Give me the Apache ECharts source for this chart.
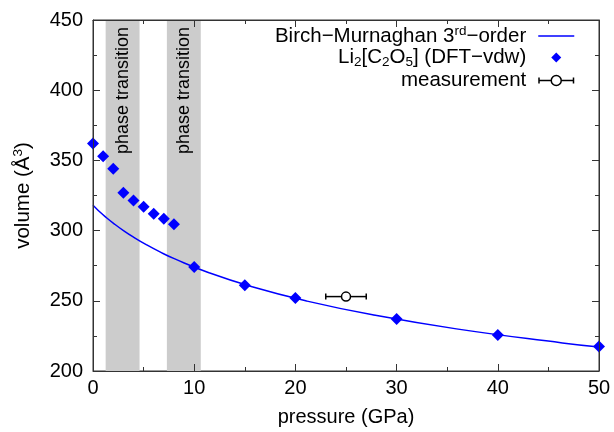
<!DOCTYPE html>
<html>
<head>
<meta charset="utf-8">
<script src="https://cdn.jsdelivr.net/npm/echarts@6/dist/echarts.min.js"></script>
<style>
  html, body { margin: 0; padding: 0; background: #fff; }
  #chart { width: 614px; height: 432px; }
</style>
</head>
<body>
<div id="chart"></div>
<script>
// DFT points (pressure in GPa, volume in Å^3)
const dftPressure = [0, 1, 2, 3, 4, 5, 6, 7, 8, 10, 15, 20, 30, 40, 50];
const dftVolume = [362, 353, 344, 327, 321.5, 317, 312, 308.5, 304.5, 274, 261, 252, 237, 225.6, 217.4];

// points
const bmPressure = [0, 0.57, 1.2, 2.06, 3.01, 4.08, 5.26, 6.57, 8.03, 11.46, 15.72, 21.02, 27.63, 35.91, 46.38, 50];
const bmVolume = [318, 314, 310, 305, 300, 295, 290, 285, 280, 270, 260, 250, 240, 230, 220, 217.1];

// experiment with pressure error
const measPressure = [25];
const measVolume = [253];
const measErr = [2];

// shaded phase transition ranges (GPa)
const phaseBands = [[1.25, 4.6], [7.3, 10.65]];

const FONT = '"Liberation Sans", Arial, Helvetica, sans-serif';
const BLUE = '#0000ff';
const FRAME = '#333333';

const rich = {
  n: { fontSize: 20.5, lineHeight: 24, fontFamily: FONT, color: '#000' },
  sup: { fontSize: 13.5, lineHeight: 24, verticalAlign: 'top', fontFamily: FONT, color: '#000' },
  sub: { fontSize: 13.5, lineHeight: 24, verticalAlign: 'bottom', fontFamily: FONT, color: '#000' }
};

const legendText = {
  'bm': '{n|Birch\u2212Murnaghan 3}{sup|rd}{n|\u2212order}',
  'dft': '{n|Li}{sub|2}{n|[C}{sub|2}{n|O}{sub|5}{n|] (DFT\u2212vdw)}',
  'meas': '{n|measurement}'
};

// fresh style objects for every axis
function axisParts(showLabels) {
  return {
    z: 10,
    axisLine: { show: true, onZero: false, lineStyle: { color: FRAME, width: 1 } },
    axisTick: { show: true, inside: true, length: 7, lineStyle: { color: FRAME, width: 1 } },
    minorTick: { show: true, splitNumber: 2, length: 4, lineStyle: { color: FRAME, width: 1 } },
    splitLine: { show: false },
    axisLabel: showLabels
      ? { show: true, fontSize: 20, fontFamily: FONT, color: '#000' }
      : { show: false }
  };
}

const chart = echarts.init(document.getElementById('chart'), null, { renderer: 'canvas' });

const xBottom = axisParts(true);
xBottom.axisLabel.margin = 7;
const yLeft = axisParts(true);
yLeft.axisLabel.margin = 10;

chart.setOption({
  animation: false,
  backgroundColor: '#fff',
  grid: { left: 93, right: 15, top: 20, bottom: 54, show: true, borderColor: FRAME, borderWidth: 1 },
  xAxis: [
    Object.assign({
      type: 'value', min: 0, max: 50, interval: 10, position: 'bottom',
      name: 'pressure (GPa)', nameLocation: 'middle', nameGap: 36,
      nameTextStyle: { fontSize: 20, fontFamily: FONT, color: '#000' }
    }, xBottom),
    Object.assign({ type: 'value', min: 0, max: 50, interval: 10, position: 'top' }, axisParts(false))
  ],
  yAxis: [
    Object.assign({
      type: 'value', min: 200, max: 450, interval: 50, position: 'left',
      name: '{n|volume (\u00c5}{sup|3}{n|)}', nameLocation: 'middle', nameGap: 58,
      nameTextStyle: { rich }
    }, yLeft),
    Object.assign({ type: 'value', min: 200, max: 450, interval: 50, position: 'right' }, axisParts(false))
  ],
  legend: {
    orient: 'vertical', right: 39, top: 24, align: 'right', padding: 0,
    itemWidth: 36, itemHeight: 10, itemGap: 0.5,
    textStyle: { rich, padding: [0, 7, 0, 0] },
    formatter: (name) => legendText[name],
    data: [
      {
        name: 'bm',
        icon: 'path://M0,0L0,0M0,10L0,10M0,5L36,5',
        itemStyle: { color: BLUE, borderColor: BLUE, borderWidth: 1.5 }
      },
      {
        name: 'dft',
        icon: 'path://M0,0L0,0M36,10L36,10M18,-0.5L23.5,5L18,10.5L12.5,5Z',
        itemStyle: { color: BLUE, borderWidth: 0 }
      },
      {
        name: 'meas',
        icon: 'path://M0,5L13,5M23,5L36,5M0.75,2L0.75,8M35.25,2L35.25,8M23,5A5,5 0 1,1 13,5A5,5 0 1,1 23,5Z',
        itemStyle: { color: '#fff', borderColor: '#000', borderWidth: 1.5 }
      }
    ]
  },
  series: [
    {
      name: 'bm', type: 'line', symbol: 'none', smooth: 0.5,
      lineStyle: { color: BLUE, width: 1.5 }, itemStyle: { color: BLUE },
      data: bmPressure.map((p, i) => [p, bmVolume[i]]),
      markArea: {
        silent: true,
        itemStyle: { color: '#cccccc' },
        label: {
          show: true, position: 'insideTop', rotate: 90, align: 'right', verticalAlign: 'middle',
          distance: 9, offset: [2, 0], color: '#000', fontSize: 18, fontFamily: FONT
        },
        data: phaseBands.map((b) => [{ xAxis: b[0], name: 'phase transition' }, { xAxis: b[1] }])
      },
      z: 3
    },
    {
      name: 'dft', type: 'scatter', symbol: 'diamond', symbolSize: 12,
      itemStyle: { color: BLUE, opacity: 1 },
      data: dftPressure.map((p, i) => [p, dftVolume[i]]),
      z: 4
    },
    {
      name: 'meas', type: 'custom',
      itemStyle: { color: '#fff', borderColor: '#000', borderWidth: 1.5 },
      data: measPressure.map((p, i) => [p, measVolume[i], measErr[i]]),
      renderItem: (params, api) => {
        const x = api.value(0), y = api.value(1), e = api.value(2);
        const c = api.coord([x, y]);
        const lo = api.coord([x - e, y])[0];
        const hi = api.coord([x + e, y])[0];
        const r = 4.5, cap = 3;
        const st = { stroke: '#000', lineWidth: 1.5 };
        return {
          type: 'group',
          children: [
            { type: 'line', shape: { x1: lo, y1: c[1], x2: c[0] - r, y2: c[1] }, style: st },
            { type: 'line', shape: { x1: c[0] + r, y1: c[1], x2: hi, y2: c[1] }, style: st },
            { type: 'line', shape: { x1: lo, y1: c[1] - cap, x2: lo, y2: c[1] + cap }, style: st },
            { type: 'line', shape: { x1: hi, y1: c[1] - cap, x2: hi, y2: c[1] + cap }, style: st },
            { type: 'circle', shape: { cx: c[0], cy: c[1], r }, style: { fill: '#fff', stroke: '#000', lineWidth: 1.5 } }
          ]
        };
      },
      z: 5
    }
  ]
});
</script>
</body>
</html>
